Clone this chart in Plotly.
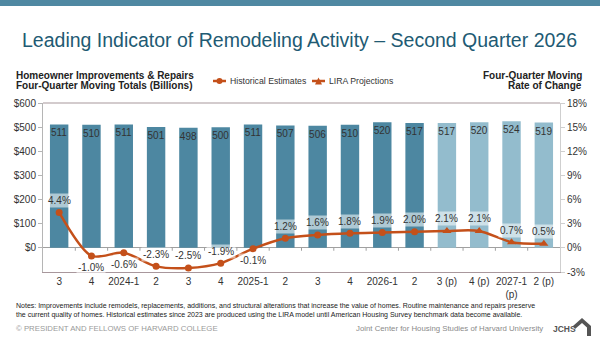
import plotly.graph_objects as go

categories = ["3", "4", "2024-1", "2", "3", "4", "2025-1", "2", "3", "4", "2026-1", "2",
              "3 (p)", "4 (p)", "2027-1<br>(p)", "2 (p)"]
spending = [511, 510, 511, 501, 498, 500, 511, 507, 506, 510, 520, 517, 517, 520, 524, 519]
rate = [4.4, -1.0, -0.6, -2.3, -2.5, -1.9, -0.1, 1.2, 1.6, 1.8, 1.9, 2.0, 2.1, 2.1, 0.7, 0.5]
n_hist = 12
label_below = [False, True, True, False, False, False, True, False, False, False, False, False,
               False, False, False, False]
series_names = ["Historical Estimates", "LIRA Projections"]

FONT = "Liberation Sans, Arial, sans-serif"
DARK = "#4d87a1"
LIGHT = "#93bccd"
ORANGE = "#c4501a"
TXT = "#333333"

L, R, T, B = 43, 40, 103, 66
W, H = 600, 338
pw, ph = W - L - R, H - T - B

idx = list(range(len(categories)))

fig = go.Figure()

bar_colors = [DARK] * n_hist + [LIGHT] * (len(spending) - n_hist)
fig.add_trace(go.Bar(
    x=idx, y=spending, marker=dict(color=bar_colors, line=dict(color="#ffffff", width=0)),
    width=0.57, text=[str(v) for v in spending], textposition="inside", insidetextanchor="end",
    textfont=dict(size=10, color=TXT, family=FONT), textangle=0, constraintext="none",
    showlegend=False, hoverinfo="skip"))

fig.add_trace(go.Scatter(
    x=idx[n_hist - 1:], y=rate[n_hist - 1:], yaxis="y2", mode="lines",
    line=dict(color=ORANGE, width=2.5, shape="spline", smoothing=0.8), showlegend=False, hoverinfo="skip"))
fig.add_trace(go.Scatter(
    x=idx[n_hist:], y=rate[n_hist:], yaxis="y2", mode="markers", name=series_names[1],
    marker=dict(color=ORANGE, size=8, symbol="triangle-up"), showlegend=False, hoverinfo="skip"))
fig.add_trace(go.Scatter(
    x=idx[:n_hist], y=rate[:n_hist], yaxis="y2", mode="lines+markers", name=series_names[0],
    line=dict(color=ORANGE, width=2.5, shape="spline", smoothing=0.8),
    marker=dict(color=ORANGE, size=7, symbol="circle"), showlegend=False, hoverinfo="skip"))

annotations = []
for i, v in enumerate(rate):
    below = label_below[i]
    annotations.append(dict(
        x=i, y=v, xref="x", yref="y2", text=f"{v:.1f}%", showarrow=False,
        yshift=-12 if below else 12, font=dict(size=10, color=TXT, family=FONT),
        bgcolor="rgba(255,255,255,0.55)", borderpad=1))

def px(x):
    return (x - L) / pw

def py(y):
    return (H - B - y) / ph

def note(x, y, text, size, color, xanchor="left", bold=False):
    return dict(x=px(x), y=py(y), xref="paper", yref="paper", text=f"<b>{text}</b>" if bold else text,
                showarrow=False, xanchor=xanchor, yanchor="middle", align=xanchor if xanchor != "center" else "center",
                font=dict(size=size, color=color, family=FONT))

annotations += [
    note(299, 40, "Leading Indicator of Remodeling Activity – Second Quarter 2026", 19.5, "#215a73", "center"),
    note(14, 75.5, "Homeowner Improvements & Repairs", 10, "#222", bold=True),
    note(14, 86, "Four-Quarter Moving Totals (Billions)", 10, "#222", bold=True),
    note(584, 75.5, "Four-Quarter Moving", 10, "#222", "right", bold=True),
    note(584, 86, "Rate of Change", 10, "#222", "right", bold=True),
    note(14, 306, "Notes: Improvements include remodels, replacements, additions, and structural alterations that increase the value of homes. Routine maintenance and repairs preserve", 7.0, "#222"),
    note(14, 315, "the current quality of homes. Historical estimates since 2023 are produced using the LIRA model until American Housing Survey benchmark data become available.", 7.0, "#222"),
    note(14, 328.5, "© PRESIDENT AND FELLOWS OF HARVARD COLLEGE", 7.8, "#9a9a9a"),
    note(545, 328.5, "Joint Center for Housing Studies of Harvard University", 7.8, "#8a8a8a", "right"),
    note(551, 329, "JCHS", 8.5, "#555", bold=True),
    # legend texts
    note(228, 81, series_names[0], 8.7, TXT),
    note(327, 81, series_names[1], 8.7, TXT),
]

shapes = [
    dict(type="rect", xref="paper", yref="paper", x0=px(0), x1=px(600), y0=py(6), y1=py(0),
         fillcolor="#4f88a2", line=dict(width=0), layer="below"),
    dict(type="line", xref="paper", yref="paper", x0=0, x1=1, y0=1, y1=1, line=dict(color="#a8979c", width=1.2)),
    # JCHS house outline
    dict(type="path", xref="paper", yref="paper",
         path=(f"M {px(573)},{py(326)} L {px(582)},{py(318)} L {px(591)},{py(326)} L {px(591)},{py(336)} "
               f"L {px(587)},{py(336)} L {px(587)},{py(327.5)} L {px(582)},{py(323)} L {px(575)},{py(329)} Z"),
         fillcolor="#555", line=dict(width=0)),
    # legend samples
    dict(type="line", xref="paper", yref="paper", x0=px(213), x1=px(226), y0=py(81), y1=py(81),
         line=dict(color=ORANGE, width=2.5)),
    dict(type="circle", xref="paper", yref="paper", x0=px(216.5), x1=px(222.5), y0=py(84), y1=py(78),
         fillcolor=ORANGE, line=dict(width=0)),
    dict(type="line", xref="paper", yref="paper", x0=px(312), x1=px(325), y0=py(81), y1=py(81),
         line=dict(color=ORANGE, width=2.5)),
    dict(type="path", xref="paper", yref="paper",
         path=f"M {px(315)},{py(84.5)} L {px(318.5)},{py(77.5)} L {px(322)},{py(84.5)} Z",
         fillcolor=ORANGE, line=dict(width=0)),
]
for i in range(len(categories) - 1):
    shapes.append(dict(type="line", xref="x", yref="y", x0=i + 0.5, x1=i + 0.5, y0=0, y1=-12,
                       line=dict(color="#a0a0a0", width=1)))

fig.update_layout(
    width=W, height=H, margin=dict(l=L, r=R, t=T, b=B, pad=0),
    paper_bgcolor="white", plot_bgcolor="white", showlegend=False,
    font=dict(family=FONT, color=TXT, size=10),
    xaxis=dict(showgrid=False, showline=True, linecolor="#a8979c", linewidth=1, zeroline=False,
               tickvals=idx, ticktext=categories,
               ticks="", tickfont=dict(size=10, color=TXT), range=[-0.5, len(categories) - 0.5]),
    yaxis=dict(range=[-100, 600], tickvals=[0, 100, 200, 300, 400, 500, 600],
               ticktext=["$0", "$100", "$200", "$300", "$400", "$500", "$600"],
               showgrid=False, zeroline=True, zerolinecolor="#a0a0a0", zerolinewidth=1,
               showline=True, linecolor="#b5b5b5", linewidth=1, ticks="outside", ticklen=4, tickcolor="#b5b5b5",
               tickfont=dict(size=10, color=TXT)),
    yaxis2=dict(range=[-3, 18], tickvals=[-3, 0, 3, 6, 9, 12, 15, 18],
                ticktext=["-3%", "0%", "3%", "6%", "9%", "12%", "15%", "18%"],
                overlaying="y", side="right", showgrid=False, zeroline=False,
                showline=True, linecolor="#cfcfcf", linewidth=1, ticks="outside", ticklen=4, tickcolor="#cfcfcf",
                tickfont=dict(size=10, color=TXT)),
    annotations=annotations, shapes=shapes,
)

fig.write_html("out.html")
